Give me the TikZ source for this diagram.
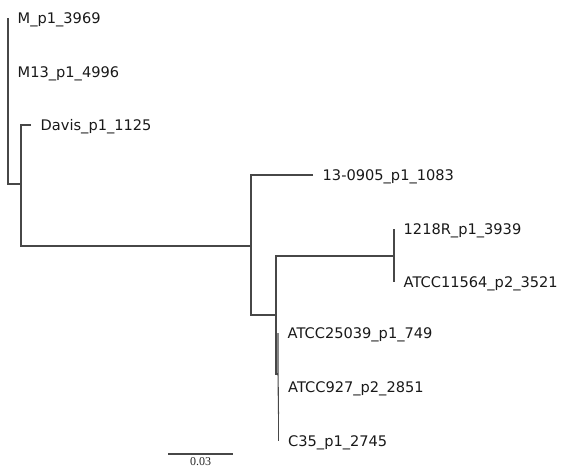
\documentclass[tikz,border=0pt]{standalone}
\usepackage{fontspec}
\setmainfont{DejaVu Sans}
\newfontfamily\scalefont{Liberation Serif}
\begin{document}
\begin{tikzpicture}[x=1pt,y=-1pt,
  branch/.style={draw=black!72, line width=1.05pt},
  leaflabel/.style={anchor=base west, inner sep=0pt, xshift=9.5pt, yshift=-5.5pt,
    font=\fontsize{14.6}{16}\selectfont, text=black!90},
  scalelabel/.style={anchor=base, inner sep=0pt, font=\scalefont\fontsize{12}{14}\selectfont, text=black!85}]
\useasboundingbox (0,0) rectangle (564,472);
% tree nodes
\coordinate (R) at (8,101);
\coordinate (lM) at (8,18);
\coordinate (lM13) at (8,72);
\coordinate (A) at (21,184);
\coordinate (lDavis) at (31,125);
\coordinate (B) at (251,246);
\coordinate (l13) at (313,175);
\coordinate (C) at (276,315);
\coordinate (D) at (394,256);
\coordinate (l1218) at (394,229);
\coordinate (l11564) at (394,282);
\coordinate (E) at (278,374);
\coordinate (l25039) at (278,333);
\coordinate (F) at (278.5,414);
\coordinate (l927) at (278.5,387);
\coordinate (lC35) at (278.5,441);
% branches
\draw[branch] (lM) |- (A);
\draw[branch] (lDavis) -| (A);
\draw[branch] (A) |- (B);
\draw[branch] (l13) -| (B);
\draw[branch] (B) |- (C);
\draw[branch] (D) -| (C);
\draw[branch] (C) |- (E);
\draw[branch] (l1218) -- (l11564);
\draw[branch] (l25039) -- (E) -- (F);
\draw[branch] (l927) -- (lC35);
% labels
\node[leaflabel] (tM) at (lM) {M\_p1\_3969};
\node[leaflabel] (tM13) at (lM13) {M13\_p1\_4996};
\node[leaflabel] (tDavis) at (lDavis) {Davis\_p1\_1125};
\node[leaflabel] (t13) at (l13) {13-0905\_p1\_1083};
\node[leaflabel] (t1218) at (l1218) {1218R\_p1\_3939};
\node[leaflabel] (t11564) at (l11564) {ATCC11564\_p2\_3521};
\node[leaflabel] (t25039) at (l25039) {ATCC25039\_p1\_749};
\node[leaflabel] (t927) at (l927) {ATCC927\_p2\_2851};
\node[leaflabel] (tC35) at (lC35) {C35\_p1\_2745};
% scale bar
\coordinate (s1) at (168,454);
\coordinate (s2) at (233,454);
\draw[branch] (s1) -- (s2);
\node[scalelabel] (sl) at (200.5,465.5) {0.03};
\end{tikzpicture}
\end{document}
